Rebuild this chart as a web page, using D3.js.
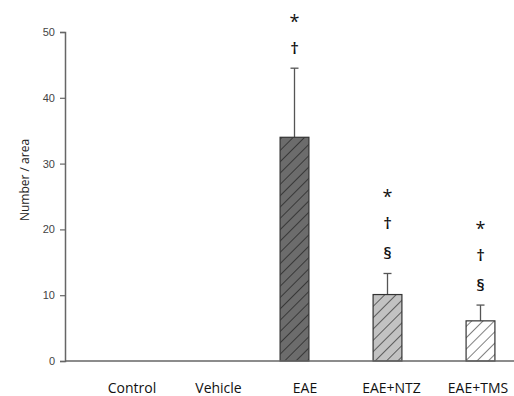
<!DOCTYPE html>
<html>
<head>
<meta charset="utf-8">
<script src="https://cdn.jsdelivr.net/npm/d3@7"></script>
<style>
  body { margin: 0; background: #fff; }
  text { font-family: "Open Sans", "Noto Sans", sans-serif; }
</style>
</head>
<body>
<div id="chart"></div>
<script>
const groups = ['Control', 'Vehicle', 'EAE', 'EAE+NTZ', 'EAE+TMS'];
const means = [null, null, 34.0, 10.1, 6.1];
const errors = [null, null, 10.5, 3.2, 2.4];
const marks = [[], [], ['*', '†'], ['*', '†', '§'], ['*', '†', '§']];
const yTicks = [0, 10, 20, 30, 40, 50];
const fills = ['#fff', '#fff', '#6c6c6c', '#c2c2c2', '#ffffff'];
const hatch = ['#000', '#000', '#2e2e2e', '#4a4a4a', '#6a6a6a'];

const W = 514, H = 396;
const svg = d3.select('#chart').append('svg').attr('width', W).attr('height', H);

const y = d3.scaleLinear().domain([0, 50]).range([361, 32]);
const x = d3.scaleBand().domain(groups).range([62, 527]).paddingInner(0.69).paddingOuter(0.345);
const xLab = d3.scalePoint().domain(groups).range([132, 478]);

const defs = svg.append('defs');
groups.forEach((g, i) => {
  const p = defs.append('pattern')
    .attr('id', 'h' + i)
    .attr('patternUnits', 'userSpaceOnUse')
    .attr('width', 8).attr('height', 8)
    .attr('patternTransform', 'rotate(45)');
  p.append('rect').attr('width', 8).attr('height', 8).attr('fill', fills[i]);
  p.append('line').attr('x1', 0).attr('y1', 0).attr('x2', 0).attr('y2', 8)
    .attr('stroke', hatch[i]).attr('stroke-width', 1.7);
});

// y axis
const yAxis = svg.append('g')
  .attr('transform', 'translate(65,0)')
  .call(d3.axisLeft(y).tickValues(yTicks).tickSize(5).tickPadding(5));
yAxis.select('.domain').attr('stroke', '#666').attr('stroke-width', 1.5);
yAxis.selectAll('.tick line').attr('stroke', '#666').attr('stroke-width', 1.2);
yAxis.selectAll('.tick text').attr('fill', '#444').style('font-size', '11px')
  .style('font-family', 'Arial, "Liberation Sans", sans-serif');

svg.append('text')
  .attr('transform', 'translate(29,180) rotate(-90)')
  .attr('text-anchor', 'middle')
  .style('font-size', '12px')
  .attr('fill', '#222')
  .text('Number / area');

const data = groups.map((g, i) => ({ g, i, v: means[i], e: errors[i], m: marks[i] }))
  .filter(d => d.v != null);

// error bars
const eb = svg.append('g').selectAll('g').data(data).join('g');
eb.append('line')
  .attr('x1', d => x(d.g) + x.bandwidth() / 2).attr('x2', d => x(d.g) + x.bandwidth() / 2)
  .attr('y1', d => y(d.v)).attr('y2', d => y(d.v + d.e))
  .attr('stroke', '#555').attr('stroke-width', 1.3);
eb.append('line')
  .attr('x1', d => x(d.g) + x.bandwidth() / 2 - 4).attr('x2', d => x(d.g) + x.bandwidth() / 2 + 4)
  .attr('y1', d => y(d.v + d.e)).attr('y2', d => y(d.v + d.e))
  .attr('stroke', '#555').attr('stroke-width', 1.3);

// bars
svg.append('g').selectAll('rect').data(data).join('rect')
  .attr('x', d => x(d.g)).attr('width', x.bandwidth())
  .attr('y', d => y(d.v)).attr('height', d => y(0) - y(d.v))
  .attr('fill', d => `url(#h${d.i})`)
  .attr('stroke', '#333').attr('stroke-width', 1.2);

// x axis line
svg.append('line')
  .attr('x1', 65).attr('x2', W).attr('y1', y(0)).attr('y2', y(0))
  .attr('stroke', '#666').attr('stroke-width', 1.5);

// significance marks, stacked above the error bar
const baseShift = { '*': 10, '†': 6, '§': 6 };
data.forEach(d => {
  const n = d.m.length;
  d.m.forEach((s, k) => {
    const cy = y(d.v + d.e) - 20 - (n - 1 - k) * 30;
    svg.append('text')
      .attr('x', x(d.g) + x.bandwidth() / 2)
      .attr('y', cy + baseShift[s])
      .attr('text-anchor', 'middle')
      .style('font-size', s === '*' ? '18px' : '17px')
      .style('font-weight', s === '*' ? 400 : 600)
      .attr('fill', '#111')
      .text(s);
  });
});

// category labels
svg.append('g').selectAll('text').data(groups).join('text')
  .attr('x', d => xLab(d)).attr('y', 393)
  .attr('text-anchor', 'middle')
  .style('font-size', '14px')
  .attr('fill', '#111')
  .text(d => d);
</script>
</body>
</html>
